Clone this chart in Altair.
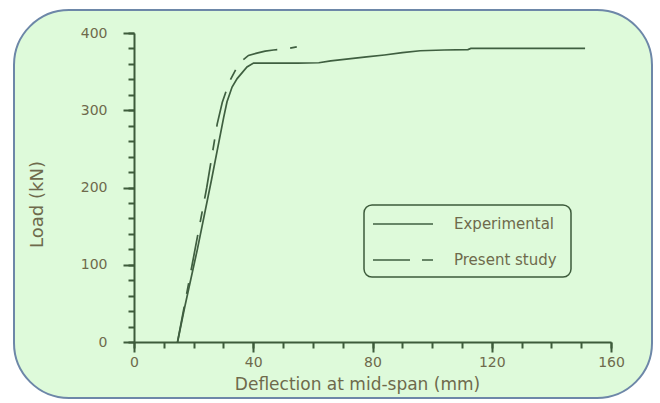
import altair as alt
import pandas as pd

# ---- data ----
exp_defl = [14.6, 17.0, 21.2, 26.0, 30.1, 31.2, 32.9, 34.6, 37.9, 40.1, 45.0, 55.0, 62.0,
            66.0, 72.0, 78.0, 84.0, 90.0, 96.0, 104.0, 112.0, 113.0, 125.0, 151.3]
exp_load = [0, 45, 119, 210, 291, 311, 330, 341, 356, 361, 361, 361, 361.5,
            364, 366.5, 369, 371.5, 374.5, 377, 378, 378.5, 380, 380, 380]

pres_defl = [14.6, 19.5, 24.4, 27.9, 29.6, 32.0, 34.6, 36.5, 38.4, 41.2, 44.0, 46.8, 50.1, 54.6]
pres_load = [0, 100, 200, 282, 310, 337, 356, 365, 371, 374, 376.5, 378, 379, 382]

series_names = ["Experimental", "Present study"]

x_major = [0, 40, 80, 120, 160]
x_minor = list(range(0, 161, 10))
y_major = [0, 100, 200, 300, 400]
y_minor = list(range(0, 401, 20))

x_title = "Deflection at mid-span  (mm)"
y_title = "Load  (kN)"

# ---- styling ----
AX = "#3D5B3B"
LINE = "#3F5F40"
TXT = "#6E6A4C"
FONT = "DejaVu Sans"
DASH = [36, 13, 11, 13]

exp_df = pd.DataFrame({"d": exp_defl, "l": exp_load, "s": series_names[0]})
pres_df = pd.DataFrame({"d": pres_defl, "l": pres_load, "s": series_names[1]})
one = pd.DataFrame({"k": [0]})

xs = alt.Scale(domain=[0, 160], nice=False, zero=False)
ys = alt.Scale(domain=[0, 400], nice=False)

# plot origin in page pixels
OX, OY = 134, 33

x_major_axis = alt.Axis(values=x_major, orient="bottom", tickSize=10, tickWidth=2,
                        domainWidth=2, domainColor=AX, tickColor=AX, grid=False,
                        labelFont=FONT, labelFontSize=14, labelColor=TXT, labelPadding=3,
                        labelFlush=False, title=x_title, titleFont=FONT, titleFontSize=17,
                        titleFontWeight="normal", titleColor=TXT, titleX=223, titleY=47,
                        titleAlign="center", titleBaseline="alphabetic", zindex=1)
x_minor_axis = alt.Axis(values=x_minor, orient="bottom", tickSize=6, tickWidth=2,
                        tickColor=AX, domain=False, labels=False, grid=False,
                        title=None, zindex=1)
y_major_axis = alt.Axis(values=y_major, orient="left", tickSize=11, tickWidth=2,
                        domainWidth=2, domainColor=AX, tickColor=AX, grid=False,
                        labelFont=FONT, labelFontSize=14, labelColor=TXT, labelPadding=16,
                        labelFlush=False, title=y_title, titleFont=FONT, titleFontSize=18,
                        titleFontWeight="normal", titleColor=TXT, titleAngle=270,
                        titleX=-97, titleY=171, titleAlign="center", titleBaseline="middle",
                        zindex=1)
y_minor_axis = alt.Axis(values=y_minor, orient="left", tickSize=6, tickWidth=2,
                        tickColor=AX, domain=False, labels=False, grid=False,
                        title=None, zindex=1)

bg = alt.Chart(one).mark_rect(fill="#DEFADA", stroke="#6D87A8", strokeWidth=2,
                              cornerRadius=55).encode(
    x=alt.value(14 - OX), x2=alt.value(652 - OX),
    y=alt.value(10 - OY), y2=alt.value(398 - OY))

exp_line = alt.Chart(exp_df).mark_line(color=LINE, strokeWidth=1.7).encode(
    x=alt.X("d:Q", scale=xs, axis=x_major_axis),
    y=alt.Y("l:Q", scale=ys, axis=y_major_axis))

pres_line = alt.Chart(pres_df).mark_line(color=LINE, strokeWidth=1.7, strokeDash=DASH).encode(
    x=alt.X("d:Q", scale=xs, axis=x_minor_axis),
    y=alt.Y("l:Q", scale=ys, axis=y_minor_axis))

box = alt.Chart(one).mark_rect(fillOpacity=0, stroke=AX, strokeWidth=1.5,
                               cornerRadius=8).encode(
    x=alt.value(364 - OX), x2=alt.value(571 - OX),
    y=alt.value(205 - OY), y2=alt.value(277 - OY))

leg1 = alt.Chart(one).mark_rule(color=LINE, strokeWidth=1.7).encode(
    x=alt.value(373 - OX), x2=alt.value(433 - OX), y=alt.value(224 - OY))
leg2 = alt.Chart(one).mark_rule(color=LINE, strokeWidth=1.7, strokeDash=[37, 12, 11, 12]).encode(
    x=alt.value(373 - OX), x2=alt.value(433 - OX), y=alt.value(260 - OY))

txt1 = alt.Chart(one).mark_text(align="left", baseline="middle", font=FONT, fontSize=15,
                                color=TXT).encode(
    x=alt.value(454 - OX), y=alt.value(224 - OY), text=alt.value(series_names[0]))
txt2 = alt.Chart(one).mark_text(align="left", baseline="middle", font=FONT, fontSize=15,
                                color=TXT).encode(
    x=alt.value(454 - OX), y=alt.value(260 - OY), text=alt.value(series_names[1]))

chart = alt.layer(bg, exp_line, pres_line, box, leg1, leg2, txt1, txt2).resolve_axis(
    x="independent", y="independent"
).properties(
    width=477, height=309,
    padding={"left": OX, "top": OY, "right": 660 - OX - 477, "bottom": 403 - OY - 309},
    autosize=alt.AutoSizeParams(type="none"),
    background="white",
).configure_view(strokeWidth=0)

chart.save("out.html", embed_options={"renderer": "svg", "actions": False})
